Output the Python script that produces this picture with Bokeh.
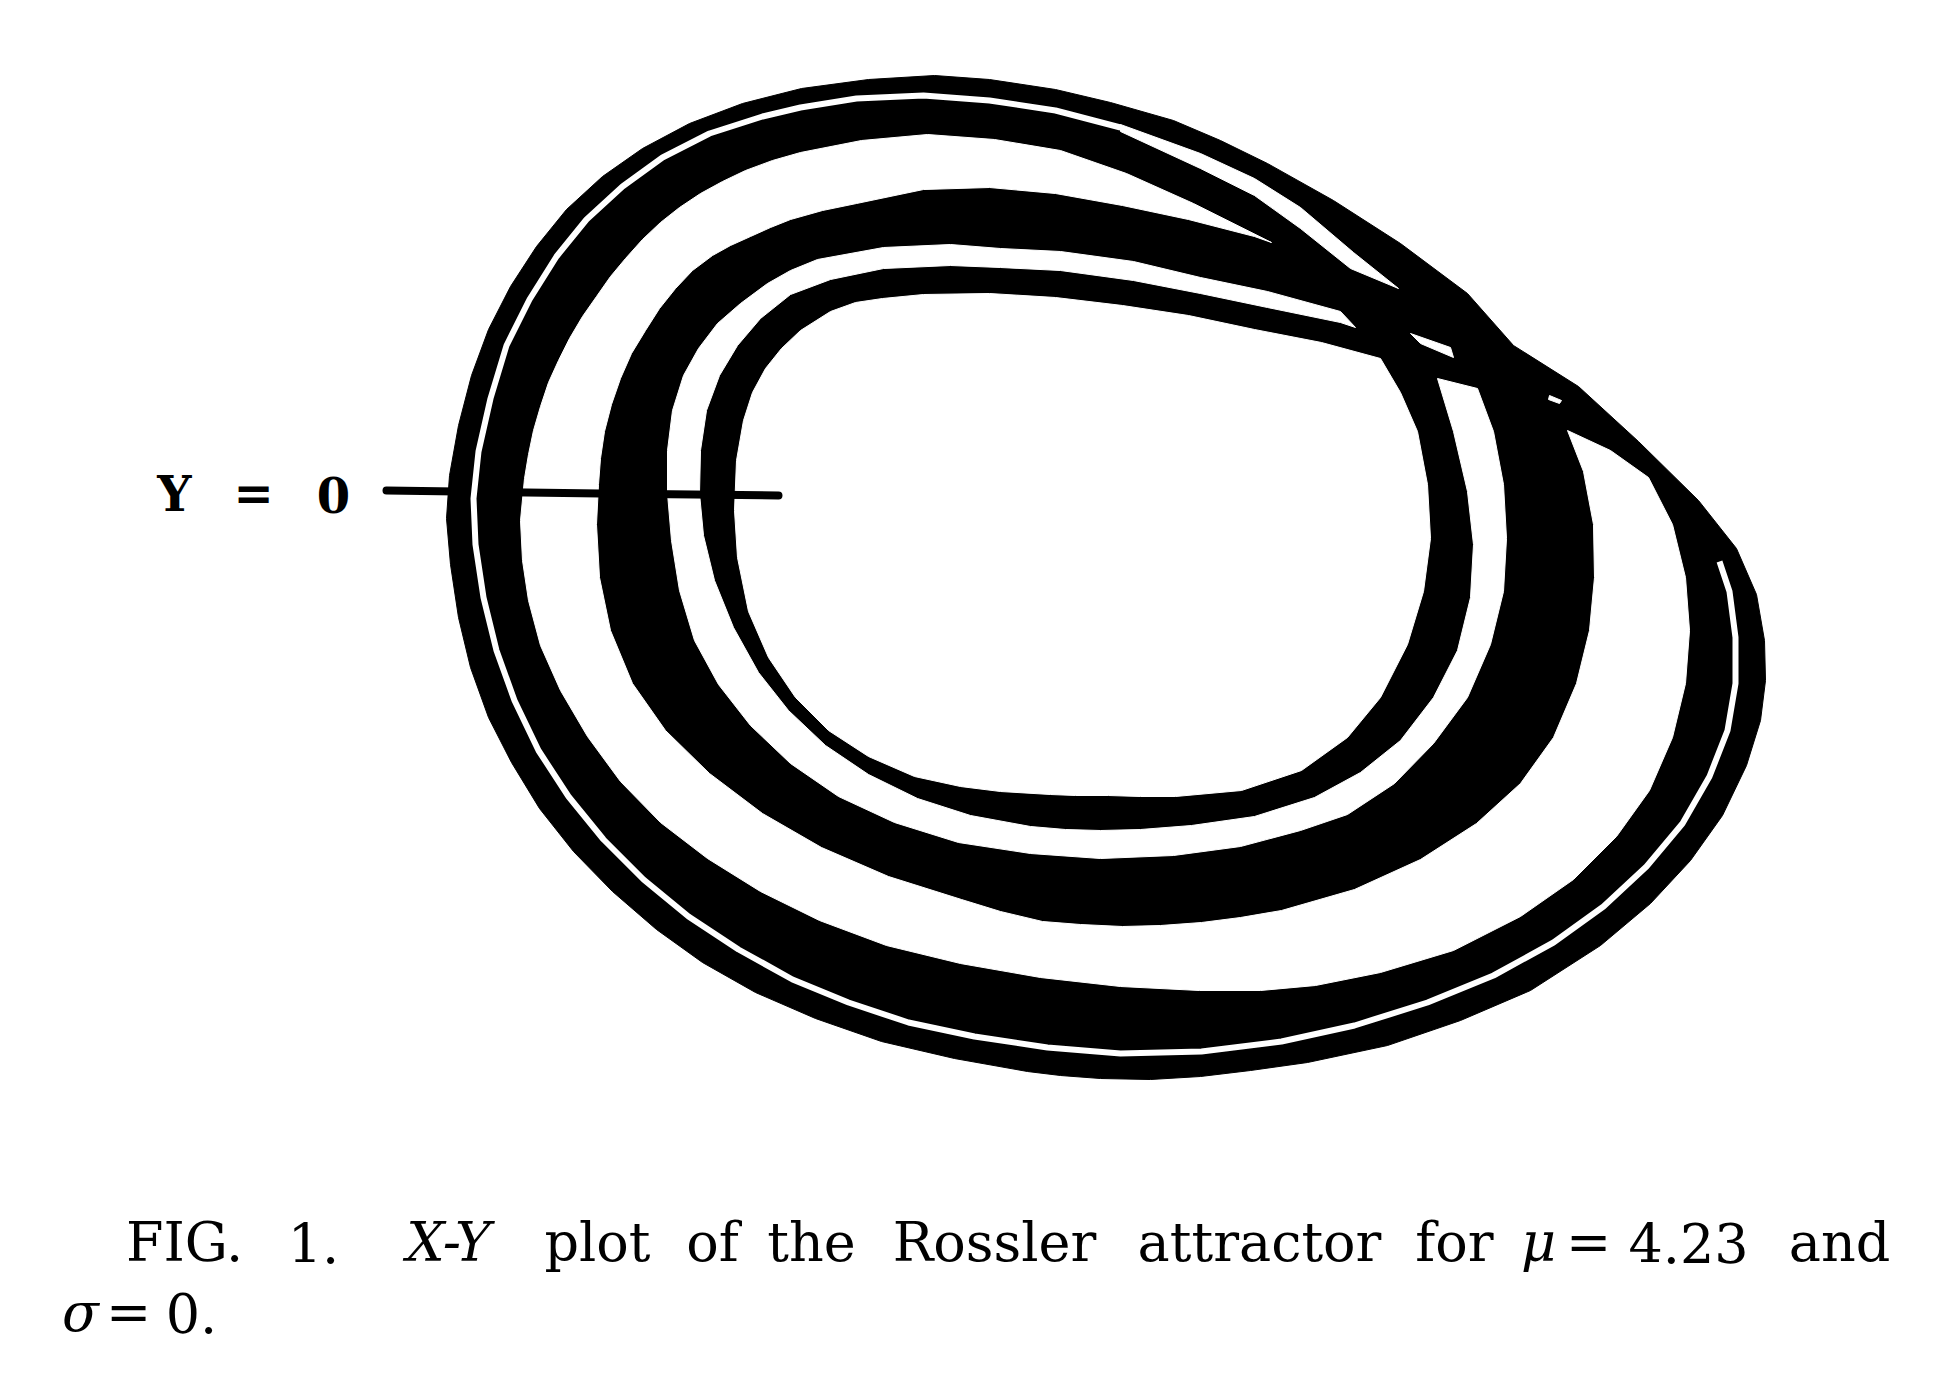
from bokeh.plotting import figure
from bokeh.models import Range1d
from bokeh.embed import file_html
from bokeh.resources import INLINE
from bokeh.core.properties import value

# ---- traced data (pixel coordinates on the 1952x1396 page, y grows downward) ----
OUTER_EDGE = [(934,75),(989,79),(1055,89),(1110,102),(1173,120),(1220,140),(1267,163),(1333,200),
              (1400,243),(1467,293),(1513,345),(1578,386),(1638,441),(1698,500),(1736,548),(1756,594),
              (1764,640),(1765,680),(1760,720),(1746,765),(1722,815),(1690,860),(1650,903),(1600,945),
              (1530,990),(1460,1020),(1387,1045),(1307,1062),(1250,1070),(1200,1076),(1150,1079),
              (1100,1078),(1060,1075),(1027,1071),(954,1058),(881,1041),(815,1018),(755,992),(702,962),
              (656,929),(612,891),(573,851),(539,808),(511,762),(488,717),(470,667),(458,617),(450,564),
              (446,518),(449,475),(458,425),(471,375),(488,329),(510,286),(536,246),(566,209),(602,176),
              (642,148),(689,123),(742,103),(801,88),(868,79)]

GAP1_LINE = [(1120,127),(1055,110),(989,100),(923,95),(856,98),(800,107),(762,116),(709,133),(662,157),
             (622,186),(586,219),(556,256),(529,299),(506,345),(490,398),(478,451),(473,498),(475,544),
             (483,597),(496,650),(514,700),(538,750),(568,796),(603,839),(643,879),(688,916),(738,949),
             (792,979),(848,1002),(908,1022),(974,1036),(1047,1047),(1120,1053),(1201,1051),(1281,1041),
             (1354,1025),(1427,1002),(1493,975),(1553,942),(1603,906),(1646,866),(1682,823),(1709,776),
             (1727,730),(1735,683),(1735,637),(1729,591),(1719,561)]

GAP1_LENS_TOP = [(1120,124),(1200,153),(1254,178),(1300,207),(1353,252),(1398,288)]
GAP1_LENS_BOT = [(1350,268),(1300,228),(1254,195),(1200,168),(1120,131)]

CRESCENT_OUT = [(1271,242),(1193,203),(1126,173),(1060,150),(994,139),(927,134),(861,140),(800,152),
                (772,160),(745,170),(722,181),(700,193),(679,207),(660,222),(642,239),(625,258),(610,276),
                (596,296),(582,316),(569,338),(558,360),(548,382),(540,406),(533,430),(528,454),(524,478),
                (520,520),(522,560),(528,600),(540,645),(560,690),(587,736),(620,781),(660,822),(707,858),
                (760,891),(819,920),(886,945),(960,963),(1040,977),(1120,986),(1199,990),(1260,990),
                (1315,985),(1380,972),(1453,950),(1520,916),(1573,879),(1616,836),(1649,790),(1672,737),
                (1685,683),(1689,630),(1685,577),(1672,524),(1648,477),(1610,450),(1567,430)]
CRESCENT_IN = [(1583,471),(1593,524),(1594,577),(1589,630),(1576,683),(1553,737),(1520,783),(1476,823),
               (1420,859),(1354,889),(1281,910),(1240,917),(1201,922),(1160,925),(1122,926),(1080,924),
               (1042,921),(1000,911),(961,899),(888,876),(821,847),(762,813),(709,773),(665,730),(632,683),
               (610,630),(599,577),(596,524),(598,484),(600,458),(604,431),(611,404),(620,378),(631,353),
               (645,330),(659,308),(675,288),(692,270),(712,255),(730,245),(750,236),(770,227),(790,219),
               (822,210),(856,203),(923,189),(989,187),(1055,193),(1122,205),(1188,219),(1254,236)]

GAP3_OUT = [(1355,327),(1340,311),(1267,291),(1200,277),(1133,261),(1060,251),(1000,248),(950,244),
            (883,247),(817,259),(790,270),(767,283),(740,303),(717,323),(698,348),(683,375),(672,410),
            (667,450),(667,493),(671,540),(679,590),(694,640),(718,684),(750,725),(790,763),(838,796),
            (894,822),(958,842),(1030,853),(1100,858),(1173,855),(1240,846),(1300,830),(1347,814),
            (1394,783),(1433,743),(1467,697),(1490,644),(1503,591),(1506,538),(1503,484),(1493,431),
            (1477,388)]
GAP3_IN = [(1437,378),(1453,431),(1467,491),(1473,544),(1470,597),(1457,650),(1433,697),(1400,740),
           (1360,772),(1314,797),(1254,816),(1191,825),(1140,829),(1100,830),(1065,829),(1030,826),
           (970,815),(917,798),(868,774),(825,745),(788,710),(758,672),(733,627),(714,580),(703,535),
           (699,493),(700,450),(706,410),(719,375),(737,345),(760,318),(790,294),(830,279),(883,268),
           (950,265),(1000,267),(1060,270),(1133,280),(1200,293),(1267,307),(1340,322)]

INNER_HOLE = [(882,298),(923,294),(989,293),(1055,297),(1122,305),(1188,315),(1254,329),(1321,342),
              (1380,358),(1400,392),(1417,431),(1427,484),(1430,538),(1423,591),(1407,644),(1380,697),
              (1347,737),(1301,770),(1241,790),(1175,796),(1140,796),(1108,795),(1075,795),(1050,794),
              (1000,791),(960,786),(914,776),(868,756),(828,730),(795,697),(768,657),(748,611),(737,557),
              (734,510),(736,460),(743,420),(752,392),(765,368),(781,348),(800,330),(830,311),(855,302)]

FOLD_LENS_A = [(1410,333),(1450,347),(1453,357),(1420,343)]
FOLD_LENS_B = [(1549,395),(1561,400),(1559,403),(1548,399)]

SECTION_LINE = [(386,490),(600,493),(778,495)]
SECTION_LABEL = ["Y", "=", "0"]
SECTION_LABEL_X = [174, 253, 333]
SECTION_LABEL_Y = [493, 492, 494]

CAPTION_WORDS = ["FIG.", "1.", "X-Y", "plot", "of", "the", "Rossler", "attractor", "for",
                 "\u03bc", "=", "4.23", "and"]
CAPTION_X = [184, 313, 448, 597, 712, 811, 994, 1259, 1454, 1538, 1588, 1688, 1839]
CAPTION_ITALIC = [False, False, True, False, False, False, False, False, False, True, False, False, False]
CAPTION2_WORDS = ["\u03c3", "=", "0."]
CAPTION2_X = [80, 128, 191]
CAPTION2_ITALIC = [True, False, False]


def xs(pts):
    return [p[0] for p in pts]


def ys(pts):
    return [p[1] for p in pts]


W, H = 1952, 1396
p = figure(width=W, height=H, x_range=Range1d(0, W), y_range=Range1d(H, 0),
           output_backend="svg", toolbar_location=None, min_border=0,
           x_axis_location=None, y_axis_location=None)
p.grid.visible = False
p.outline_line_color = None
p.background_fill_color = "white"
p.border_fill_color = "white"

# black body of the attractor
p.patch(xs(OUTER_EDGE), ys(OUTER_EDGE), fill_color="black", line_color="black", line_width=1)

# white regions between the bands
crescent = CRESCENT_OUT + CRESCENT_IN
p.patch(xs(crescent), ys(crescent), fill_color="white", line_color="white", line_width=1)
gap3 = GAP3_OUT + GAP3_IN
p.patch(xs(gap3), ys(gap3), fill_color="white", line_color="white", line_width=1)
p.patch(xs(INNER_HOLE), ys(INNER_HOLE), fill_color="white", line_color="white", line_width=1)
for lens in (FOLD_LENS_A, FOLD_LENS_B):
    p.patch(xs(lens), ys(lens), fill_color="white", line_color="white", line_width=1)

# Y = 0 section line
p.line(xs(SECTION_LINE), ys(SECTION_LINE), line_color="black", line_width=8, line_cap="round")

# thin gap between the two outer bands (drawn over the section line)
p.line(xs(GAP1_LINE), ys(GAP1_LINE), line_color="white", line_width=6, line_join="round", line_cap="butt")
lens1 = GAP1_LENS_TOP + GAP1_LENS_BOT
p.patch(xs(lens1), ys(lens1), fill_color="white", line_color="white", line_width=1)

# label of the section line
p.text(SECTION_LABEL_X, SECTION_LABEL_Y, text=SECTION_LABEL, text_font=value("DejaVu Serif"),
       text_font_size="48px", text_font_style="bold", text_align="center", text_baseline="alphabetic",
       text_color="black")

# caption
for words, xpos, ital, yb in ((CAPTION_WORDS, CAPTION_X, CAPTION_ITALIC, 1242),
                              (CAPTION2_WORDS, CAPTION2_X, CAPTION2_ITALIC, 1312)):
    for w, x0, it in zip(words, xpos, ital):
        p.text([x0], [yb], text=[w], text_font=value("DejaVu Serif"), text_font_size="54px",
               text_font_style="italic" if it else "normal", text_align="center",
               text_baseline="alphabetic", text_color="black")

open("out.html", "w").write(file_html(p, INLINE))
